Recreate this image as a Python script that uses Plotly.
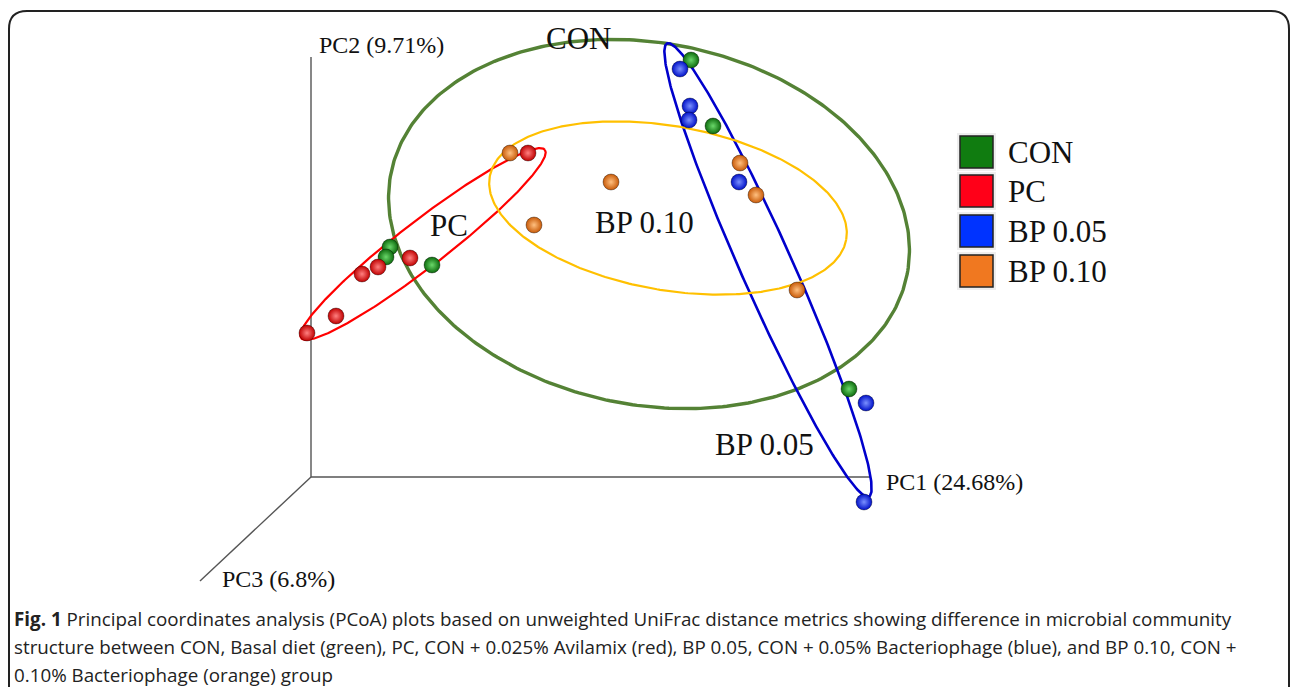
import numpy as np
import plotly.graph_objects as go

W, H = 1290, 687

# ---- data: projected sample positions (plot units) ----
groups = ["CON", "PC", "BP 0.05", "BP 0.10"]
con_x = [691, 713, 390, 386, 432, 849]
con_y = [60, 126, 247, 257, 265, 389]
pc_x = [307, 336, 362, 378, 410, 528]
pc_y = [333, 316, 274, 267, 258, 153]
bp05_x = [680, 690, 689, 739, 866, 864]
bp05_y = [69, 106, 120, 182, 403, 502]
bp10_x = [510, 534, 611, 740, 756, 797]
bp10_y = [153, 225, 182, 163, 195, 290]

# group ellipses: centre x, centre y, semi-major, semi-minor, angle (deg)
ell_cx = [649, 423, 768, 668]
ell_cy = [224, 244, 270, 208]
ell_a = [263, 154, 248, 181]
ell_b = [181, 23, 26, 82]
ell_ang = [11, -37.7, 66, 10]

# group label positions
lab_text = ["CON", "PC", "BP 0.05", "BP 0.10"]
lab_x = [578, 449, 764, 644]
lab_y = [38, 225, 444, 222]

axis_labels = ["PC1 (24.68%)", "PC2 (9.71%)", "PC3 (6.8%)"]

# ---- styles ----
pt_edge = ["#0d6a0d", "#c00000", "#0010c8", "#c85a08"]
pt_light = ["#6ad86a", "#ff8080", "#7a90ff", "#ffc080"]
ell_col = ["#548235", "#ff0000", "#0000cc", "#ffc000"]
ell_w = [3.4, 2.2, 2.6, 2.2]
leg_col = ["#107c10", "#ff0018", "#0033ff", "#f07820"]

xs = [con_x, pc_x, bp05_x, bp10_x]
ys = [con_y, pc_y, bp05_y, bp10_y]

fig = go.Figure()

# axes of the pseudo-3D frame
fig.add_trace(go.Scatter(x=[311, 311, 870], y=[57, 477, 477], mode="lines",
                         line=dict(color="#555555", width=1.4), hoverinfo="skip", showlegend=False))
fig.add_trace(go.Scatter(x=[311, 200], y=[477, 581], mode="lines",
                         line=dict(color="#555555", width=1.4), hoverinfo="skip", showlegend=False))

# ellipses
t = np.linspace(0, 2 * np.pi, 361)
for i in range(4):
    th = np.deg2rad(ell_ang[i])
    ex = ell_cx[i] + ell_a[i] * np.cos(t) * np.cos(th) - ell_b[i] * np.sin(t) * np.sin(th)
    ey = ell_cy[i] + ell_a[i] * np.cos(t) * np.sin(th) + ell_b[i] * np.sin(t) * np.cos(th)
    fig.add_trace(go.Scatter(x=ex, y=ey, mode="lines", line=dict(color=ell_col[i], width=ell_w[i]),
                             hoverinfo="skip", showlegend=False))

# points
for i in range(4):
    fig.add_trace(go.Scatter(
        x=xs[i], y=ys[i], mode="markers", name=groups[i], showlegend=False,
        marker=dict(size=16, color=pt_edge[i],
                    gradient=dict(type="radial", color=pt_light[i]),
                    line=dict(color="rgba(0,0,0,0.45)", width=0.8))))

serif = "Liberation Serif, Times New Roman, serif"
ann = []
for i in range(4):
    ann.append(dict(x=lab_x[i], y=lab_y[i], text=lab_text[i], showarrow=False,
                    font=dict(family=serif, size=31, color="#111111"),
                    xanchor="center", yanchor="middle"))
ann.append(dict(x=884, y=482, text=axis_labels[0], showarrow=False, xanchor="left", yanchor="middle",
                font=dict(family=serif, size=24, color="#111111")))
ann.append(dict(x=317, y=45, text=axis_labels[1], showarrow=False, xanchor="left", yanchor="middle",
                font=dict(family=serif, size=24, color="#111111")))
ann.append(dict(x=220, y=579, text=axis_labels[2], showarrow=False, xanchor="left", yanchor="middle",
                font=dict(family=serif, size=24, color="#111111")))

# legend
shapes = []
leg_y = [152, 191, 231, 271]
for i in range(4):
    shapes.append(dict(type="rect", xref="x", yref="y", x0=957, x1=996, y0=leg_y[i] - 19, y1=leg_y[i] + 19,
                       fillcolor="#eeeeee", line=dict(width=0), layer="below"))
    shapes.append(dict(type="rect", xref="x", yref="y", x0=960, x1=993, y0=leg_y[i] - 16, y1=leg_y[i] + 16,
                       fillcolor=leg_col[i], line=dict(color="#222222", width=1.5)))
    ann.append(dict(x=1006, y=leg_y[i], text=groups[i], showarrow=False, xanchor="left", yanchor="middle",
                    font=dict(family=serif, size=31, color="#111111")))

# frame with rounded top corners
r = 18
shapes.append(dict(type="path", xref="x", yref="y",
                   path=f"M 9 700 L 9 {11 + r} Q 9 11 {9 + r} 11 L {1289 - r} 11 Q 1289 11 1289 {11 + r} L 1289 700",
                   line=dict(color="#222222", width=2)))

# caption
cap_font = dict(family="Open Sans, sans-serif", size=18.8, color="#222222")
cap_lines = [
    "<b>Fig. 1</b> Principal coordinates analysis (PCoA) plots based on unweighted UniFrac distance metrics showing difference in microbial community",
    "structure between CON, Basal diet (green), PC, CON + 0.025% Avilamix (red), BP 0.05, CON + 0.05% Bacteriophage (blue), and BP 0.10, CON +",
    "0.10% Bacteriophage (orange) group",
]
for k, line in enumerate(cap_lines):
    ann.append(dict(x=12, y=619 + 28 * k, text=line, showarrow=False, xanchor="left", yanchor="middle",
                    font=cap_font))

fig.update_layout(
    width=W, height=H, margin=dict(l=0, r=0, t=0, b=0),
    paper_bgcolor="white", plot_bgcolor="white",
    xaxis=dict(range=[0, W], visible=False, fixedrange=True),
    yaxis=dict(range=[H, 0], visible=False, fixedrange=True),
    annotations=ann, shapes=shapes, showlegend=False,
)
fig.write_html("out.html", config={"displayModeBar": False},
               post_script="document.body.style.margin='0';document.body.style.overflow='hidden';")
